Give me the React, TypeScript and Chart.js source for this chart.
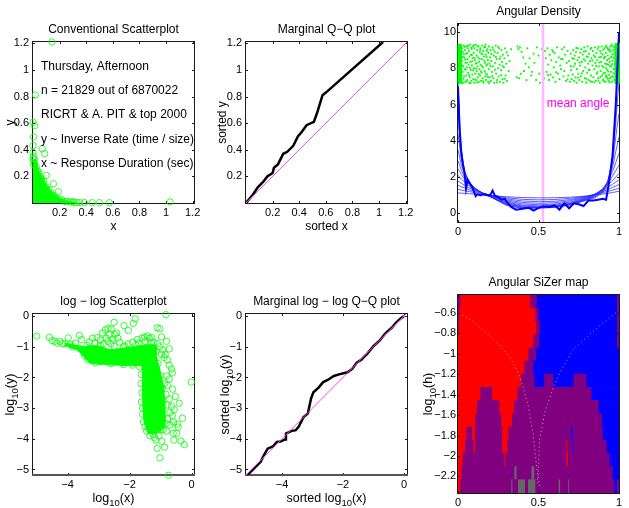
import React, { useEffect, useRef } from "react";
import { Chart, registerables } from "chart.js";

Chart.register(...registerables);

const FONT = '"Liberation Sans", Arial, sans-serif';
const GREEN = "#00ff00";

// Panel 1: conventional scatterplot
const scatterMass = [[-0.025,-0.018],[-0.025,0.05],[-0.02,0.325],[0.02,0.325],[0.04,0.25],[0.065,0.205],[0.098,0.145],[0.135,0.09],[0.195,0.04],[0.25,0.018],[0.35,-0.005],[0.35,-0.018]];
const scatterPoints = [[0.143,1.21],[0.018,0.812],[0,0.607],[0.013,0.581],[0.005,0.496],[0,0.431],[0,0.381],[0.07,0.408],[0.088,0.371],[0,0.331],[0.005,0.288],[0.1,0.208],[0.153,0.145],[0.19,0.085],[1.03,0.008],[0.574,0.002],[0.5,0.002],[0.446,0.002],[0.386,0.003],[0.35,0.003],[0.33,0.003],[0.305,0.005],[0.28,0.007],[0.24,0.012],[0.215,0.025],[0.17,0.04],[0.14,0.07],[0.12,0.1],[0.1,0.12],[0.08,0.165],[0.06,0.19],[0.045,0.225],[0.035,0.24],[0.025,0.27],[0.012,0.3],[0.004,0.35],[0.01,0.33],[0.065,0.17],[0.105,0.095],[0.155,0.055],[0.195,0.03],[0.26,0.012],[0.3,0.01]];
const scatterNotes = ["Thursday, Afternoon","n = 21829 out of 6870022","RICRT & A. PIT & top 2000","y ~ Inverse Rate (time / size)","x ~ Response Duration (sec)"];
const scatterNoteY = [1.022,0.842,0.661,0.473,0.293];
const linearTicks = [0.2,0.4,0.6,0.8,1,1.2];
const linearTickLabels = ["0.2","0.4","0.6","0.8","1","1.2"];

// Panel 2: marginal Q-Q
const qqLine = [[0,0],[0.05,0.06],[0.09,0.12],[0.13,0.16],[0.16,0.2],[0.2,0.225],[0.21,0.265],[0.24,0.29],[0.28,0.37],[0.31,0.385],[0.355,0.43],[0.39,0.5],[0.42,0.535],[0.455,0.585],[0.51,0.61],[0.535,0.68],[0.575,0.81],[0.6,0.83],[1.03,1.21]];
const qqDiagonal = [[0,0],[1.21,1.21]];

// Panel 3: angular density
const densityGrid = [0,0.01,0.02,0.04,0.07,0.1,0.15,0.2,0.3,0.4,0.5,0.6,0.7,0.8,0.85,0.9,0.93,0.96,0.98,0.99,1];
const densityCurve1 = [1.12,1.12,1.11,1.1,1.08,1.06,1.02,0.98,0.91,0.87,0.85,0.86,0.89,0.95,1,1.06,1.1,1.15,1.18,1.2,1.2];
const densityCurve2 = [1.32,1.3,1.28,1.25,1.2,1.15,1.07,1,0.86,0.77,0.74,0.76,0.83,0.95,1.03,1.14,1.2,1.28,1.33,1.35,1.36];
const densityCurve3 = [1.55,1.5,1.47,1.4,1.3,1.22,1.1,1,0.8,0.68,0.64,0.66,0.76,0.93,1.05,1.2,1.3,1.43,1.5,1.55,1.58];
const densityCurve4 = [1.78,1.72,1.66,1.55,1.4,1.28,1.12,1,0.74,0.6,0.55,0.58,0.7,0.9,1.05,1.27,1.42,1.6,1.72,1.78,1.85];
const densityCurve5 = [2.1,2,1.9,1.72,1.5,1.33,1.13,0.99,0.68,0.52,0.47,0.5,0.63,0.88,1.05,1.32,1.55,1.8,2,2.1,2.2];
const densityCurve6 = [2.45,2.3,2.15,1.88,1.58,1.37,1.13,0.97,0.62,0.45,0.41,0.44,0.58,0.85,1.03,1.35,1.65,2.05,2.35,2.5,2.65];
const densityCurve7 = [2.9,2.65,2.4,2.02,1.65,1.4,1.12,0.95,0.58,0.4,0.36,0.4,0.54,0.82,1,1.35,1.72,2.3,2.8,3.05,3.3];
const densityCurve8 = [3.5,3.1,2.7,2.15,1.7,1.42,1.11,0.93,0.54,0.36,0.33,0.37,0.52,0.79,0.97,1.32,1.76,2.55,3.4,3.8,4.2];
const densityCurve9 = [4.4,3.7,3.05,2.25,1.73,1.42,1.1,0.92,0.5,0.33,0.31,0.35,0.5,0.77,0.94,1.28,1.75,2.8,4.2,4.9,5.5];
const densityCurve10 = [5.6,4.4,3.4,2.3,1.73,1.4,1.1,0.92,0.47,0.3,0.3,0.33,0.49,0.75,0.9,1.22,1.7,3,5,6.2,7.2];
const densityCurve11 = [7.2,5.2,3.6,2.3,1.7,1.38,1.1,0.92,0.44,0.27,0.29,0.32,0.47,0.72,0.85,1.15,1.6,3.1,5.8,7.6,9.9];
const densityCurves = [densityCurve1,densityCurve2,densityCurve3,densityCurve4,densityCurve5,densityCurve6,densityCurve7,densityCurve8,densityCurve9,densityCurve10,densityCurve11];
const densityRough = [[0,7],[0.01,4.6],[0.02,3.4],[0.03,2.7],[0.04,2.3],[0.05,1.35],[0.06,1.85],[0.07,1.7],[0.09,1.4],[0.11,0.95],[0.12,1.05],[0.14,1],[0.16,1.05],[0.18,1],[0.2,1],[0.215,1.25],[0.23,0.95],[0.25,0.9],[0.27,0.75],[0.29,0.8],[0.31,0.55],[0.33,0.35],[0.36,0.2],[0.4,0.25],[0.44,0.3],[0.47,0.15],[0.5,0.3],[0.53,0.38],[0.57,0.35],[0.6,0.45],[0.63,0.2],[0.66,0.55],[0.69,0.28],[0.72,0.55],[0.75,0.5],[0.78,0.4],[0.81,0.7],[0.84,0.7],[0.87,0.75],[0.9,0.8],[0.92,0.75],[0.94,1.8],[0.96,3.2],[0.98,6],[0.99,8],[1,10]];
const meanAngle = [[0.528,-0.48],[0.528,10.44]];
const leftStrip = [[0,7.15],[0,9.3],[0.02,9.32],[0.02,7.15]];
const rightStrip = [[0.975,7.15],[0.975,9.35],[1,9.4],[1,7.15]];
const bandPoints = [
[0.022,7.3],[0.024,8.4],[0.026,9.1],[0.028,7.8],[0.03,8.9],[0.031,7.2],[0.033,8.1],[0.035,9.25],[0.037,7.55],[0.039,8.6],[0.041,7.95],[0.043,9],[0.045,7.25],[0.047,8.3],[0.049,8.8],[0.051,7.6],[0.053,9.2],[0.055,8.05],[0.057,7.35],[0.059,8.5],[0.061,9.1],[0.063,7.75],[0.065,8.2],[0.067,8.95],[0.069,7.2],[0.071,8.65],[0.073,7.5],[0.075,9.3],[0.077,8.35],[0.079,7.9],[0.081,8.75],[0.083,7.3],[0.085,9.05],[0.087,8.15],[0.089,7.65],[0.091,8.55],[0.093,9.2],[0.095,7.4],[0.097,8.85],[0.099,8],[0.101,7.2],[0.103,9.1],[0.105,8.45],[0.107,7.7],[0.109,8.25],[0.111,9.3],[0.113,7.35],[0.115,8.7],[0.117,7.85],[0.119,9],[0.121,8.1],[0.123,7.5],[0.125,8.6],[0.127,9.2],[0.129,7.25],[0.131,8.35],[0.133,7.95],[0.135,8.9],[0.137,7.6],[0.139,9.1],[0.141,8.2],[0.143,7.3],[0.145,8.8],[0.147,7.75],[0.149,8.5],[0.151,9.25],[0.153,7.45],[0.155,8.05],[0.157,8.95],[0.159,7.2],[0.161,8.65],[0.163,9.15],[0.165,7.85],[0.167,8.3],[0.169,7.55],[0.171,9.3],[0.173,8.75],[0.175,7.35],[0.177,8.15],[0.179,8.95],[0.181,7.65],[0.183,9.05],[0.185,8.45],[0.187,7.25],[0.189,8.85],[0.191,7.95],[0.193,9.2],[0.195,8.25],[0.197,7.5],[0.199,8.6],[0.201,9],[0.204,7.3],[0.207,8.4],[0.21,7.8],[0.213,9.15],[0.216,8.1],[0.219,7.45],[0.222,8.7],[0.225,7.2],[0.228,8.9],[0.231,8.3],[0.234,9.25],[0.237,7.7],[0.24,8.5],[0.243,7.35],[0.246,8.85],[0.249,8],[0.252,7.55],[0.255,9.1],[0.258,8.2],[0.261,7.25],[0.264,8.65],[0.267,7.9],[0.27,9],[0.273,8.35],[0.276,7.4],[0.279,8.75],[0.282,7.2],[0.285,8.05],[0.288,8.55],[0.292,9.1],[0.296,7.6],[0.3,8.25],[0.305,7.3],[0.31,8.7],[0.315,7.85],[0.32,8.4],[0.33,9.05],[0.37,9.2],[0.375,9.05],[0.385,9.15],[0.365,7.5],[0.38,7.45],[0.39,7.7],[0.395,8.9],[0.405,8.6],[0.41,7.85],[0.42,8.25],[0.425,7.35],[0.43,9.1],[0.44,8.05],[0.445,8.55],[0.455,7.6],[0.46,7.8],[0.47,8.8],[0.475,8.3],[0.485,7.35],[0.49,9.15],[0.5,8.7],[0.505,7.7],[0.51,7.2],[0.52,9.05],[0.525,8.15],
[0.535,7.45],[0.54,8.95],[0.545,8.55],[0.55,7.8],[0.555,9.1],[0.56,8.2],[0.565,7.35],[0.57,8.75],[0.575,7.65],[0.58,8.45],[0.585,9],[0.59,7.5],[0.595,8.05],[0.6,8.85],[0.605,7.25],[0.61,8.35],[0.615,9.15],[0.62,7.7],[0.625,8.6],[0.63,7.4],[0.635,8.15],[0.64,7.95],[0.645,9.05],[0.65,8.5],[0.655,7.55],[0.66,7.85],[0.665,8.75],[0.67,7.3],[0.675,8.3],[0.68,8.95],[0.685,7.6],[0.69,8.4],[0.695,7.25],[0.7,8.8],[0.703,7.9],[0.706,7.4],[0.709,8.55],[0.712,7.65],[0.715,9],[0.718,8.1],[0.721,7.3],[0.724,8.7],[0.727,8.25],[0.73,7.5],[0.733,8.9],[0.736,7.2],[0.739,7.95],[0.742,8.45],[0.745,9.1],[0.748,7.7],[0.751,8.6],[0.754,7.35],[0.757,8.15],[0.76,8.85],[0.763,7.55],[0.766,9.05],[0.769,8.35],[0.772,7.25],[0.775,8.75],[0.778,7.85],[0.781,8.5],[0.784,9.15],[0.787,7.45],[0.79,8.05],[0.793,8.95],[0.796,7.2],[0.799,8.65],[0.802,7.75],[0.805,9.2],[0.808,8.25],[0.811,7.35],[0.814,8.8],[0.817,7.9],[0.82,8.4],[0.823,9.05],[0.826,7.6],[0.829,8.55],[0.832,7.25],[0.835,8.15],[0.838,8.95],[0.841,7.5],[0.844,8.7],[0.847,7.95],[0.85,9.15],[0.853,8.3],[0.856,7.3],[0.859,8.85],[0.862,7.7],[0.865,8.45],[0.868,9.05],[0.871,7.45],[0.874,8.1],[0.877,8.6],[0.88,7.2],[0.883,8.95],[0.886,7.85],[0.889,8.35],[0.892,9.2],[0.895,7.6],[0.898,8.75],[0.901,7.35],[0.904,8.05],[0.907,8.55],[0.91,9.1],[0.912,7.75],[0.914,8.25],[0.916,7.25],[0.918,8.85],[0.92,8],[0.922,9.25],[0.924,7.5],[0.926,8.45],[0.928,7.9],[0.93,8.7],[0.932,9.05],[0.934,7.3],[0.936,8.2],[0.938,7.65],[0.94,8.95],[0.942,8.35],[0.944,7.45],[0.946,9.2],[0.948,8.6],[0.95,7.8],[0.952,8.1],[0.954,9.3],[0.956,7.25],[0.958,8.75],[0.96,8.4],[0.962,7.55],[0.964,9],[0.966,7.95],[0.968,8.55],[0.97,7.35],[0.972,9.15],[0.974,8.25]
];
const bandExtra = [
[0.027,8.15],[0.034,7.42],[0.029,8.62],[0.042,9.18],[0.036,8.77],[0.048,7.92],[0.044,8.48],[0.058,8.83],[0.052,7.28],[0.062,9.24],[0.068,7.62],[0.056,8.31],[0.074,8.02],[0.082,9.12],[0.078,7.18],[0.088,8.38],[0.094,7.88],[0.086,8.72],[0.102,8.58],[0.108,7.38],[0.098,9.28],[0.116,8.28],[0.112,7.98],[0.122,9.22],[0.128,7.68],[0.118,7.22],[0.134,8.52],[0.142,7.82],[0.138,9.02],[0.148,8.12],[0.156,7.28],[0.152,8.78],[0.164,8.42],[0.172,7.72],[0.168,9.18],[0.178,8.62],[0.186,7.52],[0.182,8.22],[0.194,7.18],[0.202,8.12],[0.208,8.78],[0.214,7.58],[0.22,9.02],[0.229,7.92],[0.235,8.62],[0.242,7.22],[0.25,9.18],[0.259,8.52],[0.268,7.62],[0.277,8.12],[0.29,7.42],[0.302,8.88],
[0.56,7.62],[0.61,7.78],[0.59,8.92],[0.64,8.52],[0.66,9.15],[0.68,7.38],[0.7,8.12],[0.72,8.52],[0.735,9.12],[0.745,7.48],[0.755,8.32],[0.77,7.72],[0.782,8.92],[0.79,8.42],[0.798,7.42],[0.806,8.62],[0.812,7.92],[0.822,7.28],[0.828,9.12],[0.836,8.42],[0.845,7.22],[0.852,8.62],[0.858,8.12],[0.866,7.78],[0.873,9.18],[0.878,8.32],[0.884,7.52],[0.89,8.82],[0.896,8.12],[0.902,9.02],[0.908,7.28],[0.913,8.62],[0.917,9.18],[0.921,7.62],[0.925,8.22],[0.929,9.12],[0.933,7.82],[0.937,8.52],[0.941,7.22],[0.945,8.12],[0.949,8.92],[0.953,7.52],[0.957,8.22],[0.961,9.22],[0.965,7.72],[0.969,8.82],[0.973,7.98],[0.955,8.62],[0.943,9.02],[0.931,7.42],[0.919,7.52],[0.903,7.72],[0.887,8.62],[0.872,7.32]
];
const densityNote = "mean angle";

// Panel 4: log-log scatterplot
const logMass = [[-4.1,-0.88],[-3.49,-1.0],[-3.06,-0.96],[-2.63,-1.09],[-1.88,-1.0],[-1.45,-0.93],[-1.13,-0.96],[-1.13,-1.31],[-1.02,-1.75],[-0.91,-2.29],[-0.86,-2.84],[-0.86,-3.6],[-1.13,-3.82],[-1.4,-3.82],[-1.54,-3.38],[-1.58,-2.62],[-1.61,-1.62],[-1.88,-1.62],[-2.85,-1.58],[-3.28,-1.53],[-3.49,-1.31],[-3.7,-1.1],[-4.1,-0.96]];
const logPoints = [[-5,-0.65],[-4.59,-0.69],[-4.41,-0.82],[-4.25,-0.82],[-3.98,-0.71],[-4.09,-0.9],[-3.62,-0.63],[-3.55,-0.76],[-2.5,-0.2],[-2.18,-0.31],[-1.88,-0.24],[-1.82,-0.09],[-2.04,-0.47],[-0.83,0.05],[-1.11,-0.38],[-1.02,-0.41],[-0.97,-0.68],[-0.81,-0.82],[-0.72,-1.07],[-0.01,-2.15],[-0.61,-2.38],[-0.52,-2.62],[-0.4,-2.84],[-0.29,-3.33],[-0.46,-3.52],[-0.43,-3.62],[-0.59,-3.82],[-0.48,-3.82],[-0.57,-4.04],[-0.34,-4.07],[-0.23,-4.19],[-0.96,-4.08],[-0.87,-4.27],[-1.11,-4.31],[-1.02,-4.62],[-0.74,-5.19],[-1.15,-4.04],
[-3.3,-0.85],[-3.2,-0.72],[-3.05,-0.7],[-2.95,-0.78],[-2.88,-0.55],[-2.78,-0.45],[-2.7,-0.4],[-2.65,-0.6],[-2.6,-0.42],[-2.55,-0.75],[-2.48,-0.6],[-2.42,-0.55],[-2.38,-0.72],[-2.32,-0.85],[-2.7,-0.82],[-2.85,-0.9],[-3.12,-0.88],[-3.38,-0.95],[-3.75,-0.88],[-2.15,-0.98],[-2.05,-0.9],[-1.9,-0.85],[-1.75,-0.76],[-1.7,-0.88],[-1.6,-0.72],[-1.52,-0.68],[-1.42,-0.65],[-1.36,-0.72],[-1.28,-0.7],[-1.22,-0.85],[-1.1,-0.9],[-1.03,-1.0],[-0.93,-1.1],[-0.85,-1.25],[-0.97,-1.25],[-0.88,-1.35],[-0.78,-1.42],[-0.72,-1.6],[-0.65,-1.72],[-0.62,-1.85],[-0.72,-2.05],[-0.8,-1.95],[-0.87,-2.2],[-0.78,-2.25],[-0.82,-2.55],[-0.72,-2.7],[-0.65,-2.95],[-0.78,-2.9],[-0.7,-3.15],[-0.62,-3.25],[-0.77,-3.35],[-0.56,-3.05],[-0.82,-3.5],[-0.7,-3.55],[-0.58,-3.45],[-0.8,-3.75],[-0.92,-3.7],[-1.05,-3.9],[-1.2,-3.95],[-1.35,-3.9],[-1.5,-3.6],[-1.58,-3.2],[-1.62,-2.8],
[-4.5,-0.8],[-4.35,-0.88],[-4.18,-0.9],[-3.9,-0.92],[-3.85,-1.0],[-3.6,-1.05],[-3.45,-1.3],[-3.35,-1.42],[-3.1,-1.52],[-2.6,-1.55],[-2.2,-1.58],[-1.9,-1.6],[-1.68,-1.65],[-1.62,-1.9],[-1.63,-2.2],[-1.6,-2.5],[-1.58,-3.0],[-1.55,-3.45],[-1.45,-3.75],[-1.25,-3.85],[-1.02,-3.7],[-0.95,-3.25],[-0.92,-2.75],[-0.95,-2.35],[-1.0,-1.95],[-1.08,-1.55],[-1.15,-1.15],[-1.3,-0.85],[-1.5,-0.82],[-1.8,-0.93],[-2.2,-1.0],[-2.5,-0.98],[-2.95,-0.95],[-3.3,-1.05],[-2.6,-0.9],[-2.75,-0.72]];

// Panel 5: marginal log-log Q-Q
const logQqLine = [[-5.18,-5.2],[-5.1,-5.15],[-4.7,-4.75],[-4.6,-4.55],[-4.47,-4.32],[-4.3,-4.25],[-4.17,-4.1],[-4.05,-4.09],[-3.9,-4.02],[-3.87,-3.83],[-3.7,-3.75],[-3.55,-3.72],[-3.45,-3.6],[-3.3,-3.3],[-3.15,-3.17],[-3.05,-2.7],[-2.97,-2.48],[-2.8,-2.33],[-2.65,-2.15],[-2.5,-2.08],[-2.3,-1.95],[-2.1,-1.89],[-1.85,-1.83],[-1.7,-1.72],[-1.55,-1.52],[-1.4,-1.42],[-1.2,-1.22],[-1,-0.98],[-0.8,-0.8],[-0.6,-0.55],[-0.4,-0.38],[-0.25,-0.2],[-0.1,-0.07],[0,0]];
const logDiagonal = [[-5.18,-5.18],[0.08,0.08]];
const logXTicks = [-4,-2,0];
const logXLabels = ["\u22124","\u22122","0"];
const logYTicks = [-5,-4,-3,-2,-1,0];
const logYLabels = ["\u22125","\u22124","\u22123","\u22122","\u22121","0"];

// Panel 6: SiZer map
const sizerColors: Record<string, string> = { R: "#ff0000", B: "#0000ff", P: "#800080", G: "#666666" };
const sizerRowY = [-0.489,-0.618,-0.747,-0.876,-1.006,-1.135,-1.264,-1.393,-1.522,-1.652,-1.781,-1.91,-2.039,-2.168,-2.297];
const sizerRows: [number, number, string][][] = [
  [[0,0.017,"P"],[0.017,0.451,"R"],[0.451,0.491,"P"],[0.491,0.99,"B"],[0.99,1,"P"]],
  [[0,0.01,"P"],[0.01,0.482,"R"],[0.482,0.503,"P"],[0.503,0.99,"B"],[0.99,1,"P"]],
  [[0,0.006,"P"],[0.006,0.489,"R"],[0.489,0.513,"P"],[0.513,0.99,"B"],[0.99,1,"P"]],
  [[0,0.47,"R"],[0.47,0.507,"P"],[0.507,0.99,"B"],[0.99,1,"P"]],
  [[0,0.439,"R"],[0.439,0.487,"P"],[0.487,1,"B"]],
  [[0,0.414,"R"],[0.414,0.47,"P"],[0.47,1,"B"]],
  [[0,0.393,"R"],[0.393,0.478,"P"],[0.478,0.538,"B"],[0.538,0.594,"P"],[0.594,0.72,"B"],[0.72,0.799,"P"],[0.799,1,"B"]],
  [[0,0.141,"R"],[0.141,0.213,"P"],[0.213,0.371,"R"],[0.371,0.83,"P"],[0.83,1,"B"]],
  [[0,0.12,"R"],[0.12,0.259,"P"],[0.259,0.35,"R"],[0.35,0.876,"P"],[0.876,1,"B"]],
  [[0,0.108,"R"],[0.108,0.271,"P"],[0.271,0.337,"R"],[0.337,0.896,"P"],[0.896,1,"B"]],
  [[0,0.054,"R"],[0.054,0.089,"P"],[0.089,0.108,"R"],[0.108,0.277,"P"],[0.277,0.315,"R"],[0.315,0.704,"P"],[0.704,0.714,"B"],[0.714,0.901,"P"],[0.901,1,"B"]],
  [[0,0.046,"R"],[0.046,0.099,"P"],[0.099,0.108,"R"],[0.108,0.277,"P"],[0.277,0.308,"R"],[0.308,0.675,"P"],[0.675,0.681,"R"],[0.681,0.71,"P"],[0.71,0.714,"B"],[0.714,0.925,"P"],[0.925,1,"B"]],
  [[0,0.031,"R"],[0.031,0.29,"P"],[0.29,0.296,"R"],[0.296,0.675,"P"],[0.675,0.685,"R"],[0.685,0.942,"P"],[0.942,0.952,"B"],[0.952,0.955,"P"],[0.955,1,"B"]],
  [[0,0.023,"R"],[0.023,0.352,"P"],[0.352,0.366,"G"],[0.366,0.458,"P"],[0.458,0.476,"G"],[0.476,0.963,"P"],[0.963,1,"B"]],
  [[0,0.017,"R"],[0.017,0.333,"P"],[0.333,0.34,"G"],[0.34,0.375,"P"],[0.375,0.418,"G"],[0.418,0.437,"P"],[0.437,0.482,"G"],[0.482,0.627,"P"],[0.627,0.636,"G"],[0.636,0.687,"P"],[0.687,0.692,"G"],[0.692,0.973,"P"],[0.973,0.99,"B"],[0.99,1,"P"]],
];
const sizerLeftCurve = [[0.006,-0.6],[0.093,-0.682],[0.176,-0.796],[0.248,-0.901],[0.321,-1.032],[0.366,-1.156],[0.404,-1.32],[0.437,-1.516],[0.466,-1.778],[0.491,-2.138],[0.507,-2.3]];
const sizerRightCurve = [[0.979,-0.6],[0.839,-0.78],[0.714,-0.96],[0.642,-1.156],[0.594,-1.32],[0.538,-1.582],[0.507,-1.844],[0.497,-2.203],[0.491,-2.3]];
const unitTicks = [0,0.5,1];
const unitLabels = ["0","0.5","1"];
const densityYTicks = [0,2,4,6,8,10];
const densityYLabels = ["0","2","4","6","8","10"];
const sizerYTicks = [-2.2,-2,-1.8,-1.6,-1.4,-1.2,-1,-0.8,-0.6];
const sizerYLabels = ["\u22122.2","\u22122","\u22121.8","\u22121.6","\u22121.4","\u22121.2","\u22121","\u22120.8","\u22120.6"];

const MARGIN = 40;
const TOP = 19;
const BOTTOM = 34;
const pts = (a: number[][]) => a.map(([x, y]) => ({ x, y }));

type Part = [string, boolean];
const LOG_X: Part[] = [["log", false], ["10", true], ["(x)", false]];
const LOG_Y: Part[] = [["log", false], ["10", true], ["(y)", false]];

function drawRich(ctx: CanvasRenderingContext2D, parts: Part[], cx: number, cy: number, angle: number, size: number) {
  ctx.save();
  ctx.translate(cx, cy);
  ctx.rotate(angle);
  ctx.textBaseline = "alphabetic";
  ctx.textAlign = "left";
  const widths = parts.map(([t, sub]) => {
    ctx.font = `${sub ? size - 3 : size}px ${FONT}`;
    return ctx.measureText(t).width;
  });
  let x = -widths.reduce((a, b) => a + b, 0) / 2;
  parts.forEach(([t, sub], i) => {
    ctx.font = `${sub ? size - 3 : size}px ${FONT}`;
    ctx.fillText(t, x, size * 0.36 + (sub ? 4 : 0));
    x += widths[i];
  });
  ctx.restore();
}

const matlabFrame = {
  id: "matlabFrame",
  beforeDatasetsDraw(c: any, _a: any, o: any) {
    if (!o.onTop) drawFrame(c, o);
  },
  afterDatasetsDraw(c: any, _a: any, o: any) {
    if (o.onTop) drawFrame(c, o);
  },
  afterDraw(c: any, _a: any, o: any) {
    const ctx = c.ctx as CanvasRenderingContext2D;
    const a = c.chartArea;
    ctx.fillStyle = "#000";
    drawRich(ctx, o.xParts, (a.left + a.right) / 2, a.bottom + o.xGap, 0, o.titleSize);
    drawRich(ctx, o.yParts, a.left - o.yGap, (a.top + a.bottom) / 2, -Math.PI / 2, o.titleSize);
    (o.notes || []).forEach((n: any) => {
      ctx.fillStyle = n.color;
      ctx.font = `${n.size}px ${FONT}`;
      ctx.textAlign = "left";
      ctx.textBaseline = "middle";
      ctx.fillText(n.text, c.scales.x.getPixelForValue(n.x), c.scales.y.getPixelForValue(n.y));
    });
  },
};

function drawFrame(c: any, o: any) {
  const ctx = c.ctx as CanvasRenderingContext2D;
  const a = c.chartArea;
  const L = 2;
  ctx.save();
  ctx.strokeStyle = "#1a1a1a";
  ctx.lineWidth = 1;
  ctx.beginPath();
  c.scales.x.ticks.forEach((t: any) => {
    const p = Math.round(c.scales.x.getPixelForValue(t.value)) + 0.5;
    ctx.moveTo(p, a.top); ctx.lineTo(p, a.top + L);
    ctx.moveTo(p, a.bottom); ctx.lineTo(p, a.bottom - L);
  });
  c.scales.y.ticks.forEach((t: any) => {
    const p = Math.round(c.scales.y.getPixelForValue(t.value)) + 0.5;
    ctx.moveTo(a.left, p); ctx.lineTo(a.left + L, p);
    ctx.moveTo(a.right, p); ctx.lineTo(a.right - L, p);
  });
  ctx.stroke();
  ctx.strokeRect(a.left - 0.5, a.top - 0.5, a.right - a.left + 1, a.bottom - a.top + 1);
  if (o.heavyBottom) {
    ctx.strokeStyle = "#555";
    ctx.lineWidth = 2;
    ctx.beginPath();
    ctx.moveTo(a.left - 1, a.bottom);
    ctx.lineTo(a.right + 1, a.bottom);
    ctx.stroke();
  }
  ctx.restore();
}

function axis(range: number[], values: number[], labels: string[], size: number, padding: number) {
  return {
    type: "linear",
    min: range[0],
    max: range[1],
    offset: false,
    grid: { display: false, offset: false, drawTicks: false, tickLength: 0 },
    border: { display: false },
    afterBuildTicks: (s: any) => { s.ticks = values.map((value) => ({ value })); },
    afterFit: (s: any) => {
      if (s.axis === "x") s.height = BOTTOM; else s.width = MARGIN;
    },
    ticks: {
      autoSkip: false,
      maxRotation: 0,
      minRotation: 0,
      padding,
      color: "#000",
      font: { family: FONT, size },
      callback: (v: number) => labels[values.indexOf(v)],
    },
  };
}

function rings(data: number[][]) {
  return { data: pts(data), showLine: false, pointRadius: 3.2, pointBorderWidth: 1, pointBackgroundColor: "transparent", pointBorderColor: "rgba(0,255,0,0.8)", clip: false };
}
function shape(data: number[][]) {
  return { data: pts(data), showLine: true, fill: "shape", backgroundColor: GREEN, borderColor: GREEN, borderWidth: 1, pointRadius: 0, tension: 0.15, clip: false };
}
function curve(data: number[][], color: string, width: number, extra: object = {}) {
  return { data: pts(data), showLine: true, borderColor: color, borderWidth: width, pointRadius: 0, fill: false, ...extra };
}

const panels: any[] = [
  {
    title: "Conventional Scatterplot", left: 33, top: 42, h: 161, yPad: 4,
    x: [[0, 1.21], linearTicks, linearTickLabels], y: [[0, 1.21], linearTicks, linearTickLabels],
    frame: { xParts: [["x", false]], yParts: [["y", false]], xGap: 23, yGap: 23, titleSize: 12,
      notes: scatterNotes.map((text, i) => ({ text, x: 0.06, y: scatterNoteY[i], size: 12, color: "#000" })) },
    datasets: [shape(scatterMass), rings(scatterPoints)],
  },
  {
    title: "Marginal Q\u2212Q plot", left: 246, top: 42, h: 161, yPad: 4,
    x: [[0, 1.21], linearTicks, linearTickLabels], y: [[0, 1.21], linearTicks, linearTickLabels],
    frame: { xParts: [["sorted x", false]], yParts: [["sorted y", false]], xGap: 23, yGap: 24, titleSize: 12 },
    datasets: [curve(qqLine, "#000", 2.5, { order: 1 }), curve(qqDiagonal, "#ff40ff", 1, { order: 0 })],
  },
  {
    title: "Angular Density", left: 458, top: 24, h: 198, yPad: 2,
    x: [[0, 1], unitTicks, unitLabels], y: [[-0.48, 10.44], densityYTicks, densityYLabels],
    frame: { xParts: [["", false]], yParts: [["", false]], xGap: 23, yGap: 24, titleSize: 12,
      notes: [{ text: densityNote, x: 0.551, y: 6.03, size: 12, color: "#ff00ff" }] },
    datasets: [
      curve(densityRough, "#0000ff", 2, { order: 0 }),
      ...densityCurves.map((c) => curve(c.map((y, i) => [densityGrid[i], y]), "rgba(40,40,255,0.75)", 1, { order: 1 })),
      curve(meanAngle, "#ffb8ff", 2.5, { order: 2 }),
      { data: pts(bandPoints), showLine: false, pointStyle: "rect", pointRadius: 1.3, pointBorderWidth: 0, pointBackgroundColor: GREEN, order: 3 },
      { data: pts(bandExtra), showLine: false, pointStyle: "rect", pointRadius: 1.3, pointBorderWidth: 0, pointBackgroundColor: GREEN, order: 3 },
      { ...shape(leftStrip), tension: 0, order: 3 },
      { ...shape(rightStrip), tension: 0, order: 3 },
    ],
  },
  {
    title: "log \u2212 log Scatterplot", left: 33, top: 314, h: 161, yPad: 4,
    x: [[-5.12, 0.08], logXTicks, logXLabels], y: [[-5.18, 0.07], logYTicks, logYLabels],
    frame: { xParts: LOG_X, yParts: LOG_Y, xGap: 22, yGap: 24, titleSize: 12.5, heavyBottom: true },
    datasets: [shape(logMass), rings(logPoints)],
  },
  {
    title: "Marginal log \u2212 log Q\u2212Q plot", left: 246, top: 314, h: 161, yPad: 4,
    x: [[-5.18, 0.1], logXTicks, logXLabels], y: [[-5.18, 0.07], logYTicks, logYLabels],
    frame: { xParts: [["sorted log", false], ["10", true], ["(x)", false]], yParts: [["sorted log", false], ["10", true], ["(y)", false]], xGap: 22, yGap: 22, titleSize: 12.5, heavyBottom: true },
    datasets: [curve(logQqLine, "#000", 2.5, { order: 1 }), curve(logDiagonal, "#ff40ff", 1, { order: 0 })],
  },
  {
    title: "Angular SiZer map", left: 458, top: 295, h: 198, yPad: 2,
    x: [[0, 1], unitTicks, unitLabels], y: [[-2.362, -0.424], sizerYTicks, sizerYLabels],
    frame: { xParts: [["", false]], yParts: [["log", false], ["10", true], ["(h)", false]], xGap: 23, yGap: 31, titleSize: 12.5, onTop: true },
    datasets: [
      curve(sizerLeftCurve, "rgba(255,255,255,0.6)", 1, { borderDash: [1, 3], order: 0 }),
      curve(sizerRightCurve, "rgba(255,255,255,0.6)", 1, { borderDash: [1, 3], order: 0 }),
      {
        type: "bar", indexAxis: "y", order: 1, barPercentage: 1, categoryPercentage: 1, borderWidth: 0,
        data: sizerRows.flatMap((row, r) => row.map(([a, b, k]) => ({ x: [a, b], y: sizerRowY[r], k }))),
        backgroundColor: (ctx: any) => sizerColors[ctx.raw?.k] ?? "#800080",
      },
    ],
  },
];

function Panel({ cfg }: { cfg: any }) {
  const ref = useRef<HTMLCanvasElement>(null);
  useEffect(() => {
    const chart = new Chart(ref.current!, {
      type: "scatter",
      data: { datasets: cfg.datasets },
      plugins: [matlabFrame],
      options: {
        animation: false,
        responsive: false,
        events: [],
        layout: { padding: 0 },
        scales: {
          x: axis(cfg.x[0], cfg.x[1], cfg.x[2], 11, 3),
          y: axis(cfg.y[0], cfg.y[1], cfg.y[2], 11, cfg.yPad),
          rightGutter: {
            type: "linear", position: "right", axis: "y", min: 0, max: 1,
            grid: { display: false, drawTicks: false }, border: { display: false },
            ticks: { display: false },
            afterFit: (s: any) => { s.width = MARGIN; },
          },
        },
        plugins: {
          legend: { display: false },
          tooltip: { enabled: false },
          title: {
            display: true,
            text: cfg.title,
            color: "#000",
            font: { family: FONT, size: 12, weight: "normal", lineHeight: "14px" },
            padding: { top: 0, bottom: 5 },
          },
          matlabFrame: cfg.frame,
        },
      },
    } as any);
    return () => chart.destroy();
  }, [cfg]);
  return (
    <canvas
      ref={ref}
      width={161 + 2 * MARGIN}
      height={TOP + cfg.h + BOTTOM}
      style={{ position: "absolute", left: cfg.left - MARGIN, top: cfg.top - TOP, display: "block" }}
    />
  );
}

export default function App() {
  return (
    <div style={{ position: "absolute", left: 0, top: 0, width: 629, height: 508, overflow: "hidden", background: "#fff" }}>
      {panels.map((p) => <Panel key={p.title} cfg={p} />)}
    </div>
  );
}
